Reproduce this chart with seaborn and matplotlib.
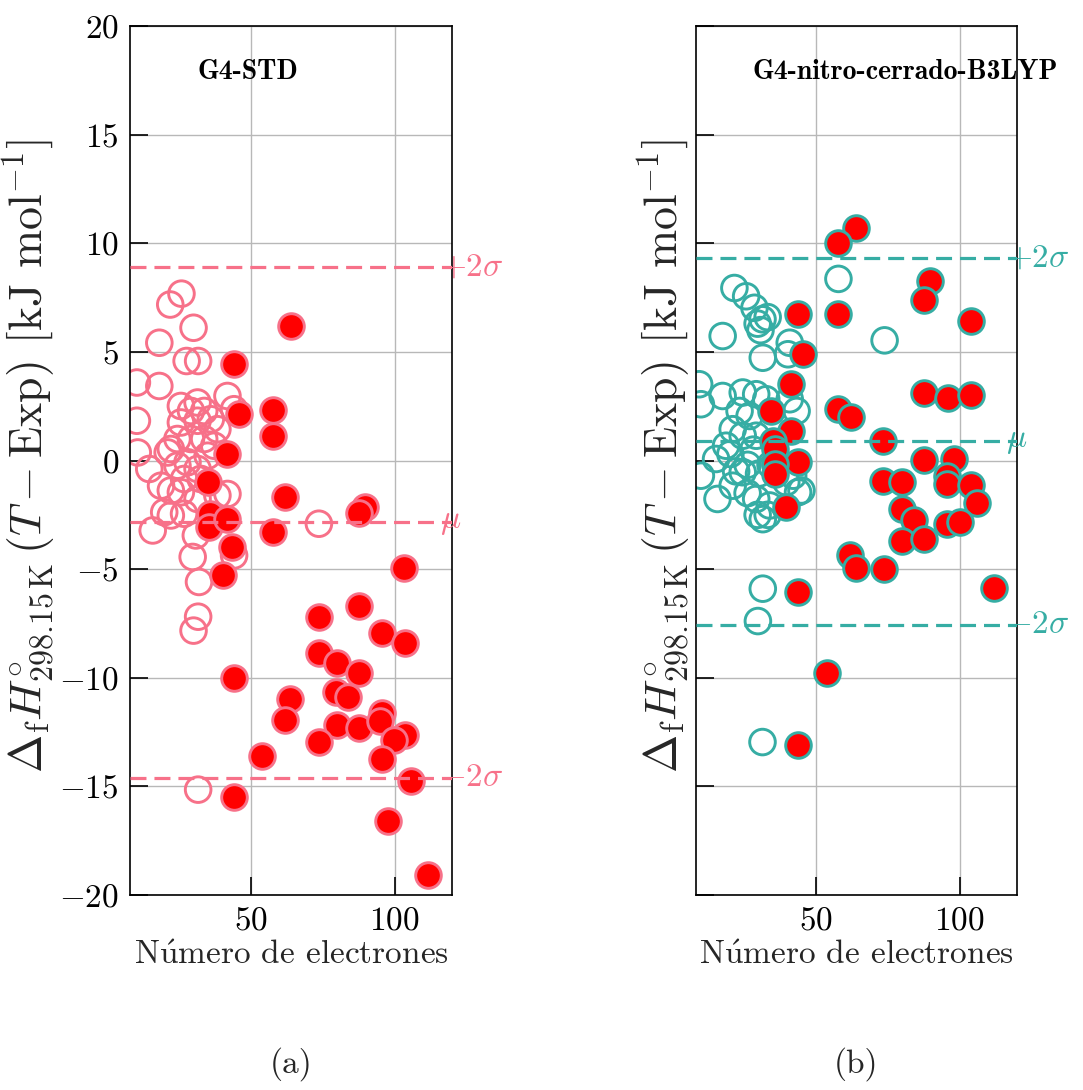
import matplotlib
matplotlib.use('Agg')
import matplotlib.pyplot as plt
import seaborn as sns
from matplotlib.ticker import FuncFormatter, MultipleLocator

# -----------------------------
# Data
# -----------------------------
# (a) G4-STD
std_open_x = [25.9, 22.0, 30.1, 18.2, 27.7, 31.7, 10.4, 18.2, 25.7, 31.5, 41.9, 10.4,
              10.7, 29.2, 33.8, 44.2, 25.7, 31.5, 36.1, 24.5, 29.2, 33.8, 37.3, 28.0,
              31.5, 24.5, 35.0, 32.6, 26.8, 21.1, 22.2, 14.7, 22.2, 25.7, 31.5, 38.4,
              41.9, 22.2, 26.8, 15.9, 30.9, 29.8, 32.0, 44.2, 38.4, 19.9, 18.8, 31.7,
              30.1, 31.7, 73.7]
std_open_y = [7.68, 7.18, 6.11, 5.42, 4.58, 4.58, 3.59, 3.43, 2.51, 2.67, 2.97, 1.83,
              0.37, 2.28, 2.28, 2.36, 1.75, 1.83, 1.90, 0.99, 0.99, 0.99, 0.68, -0.08,
              -0.39, -0.24, 0.22, -0.85, -0.85, 0.37, 0.53, -0.39, -1.38, -1.46, -1.77, -1.61,
              -1.54, -2.53, -2.45, -3.22, -3.45, -4.44, -5.59, -4.37, 1.44, -2.38, -1.16, -7.19,
              -7.83, -15.15, -2.91]
std_fill_x = [44.1, 45.9, 41.9, 35.2, 35.9, 35.5, 41.9, 43.6, 40.2, 44.0, 44.0, 53.8,
              63.7, 61.8, 73.7, 73.7, 79.9, 87.6, 79.5, 83.8, 79.9, 87.6, 73.7, 87.6,
              95.7, 103.5, 95.7, 95.0, 103.5, 99.8, 95.7, 105.6, 97.8, 111.6, 63.9, 57.8,
              57.8, 61.8, 57.8, 89.6, 87.6, 103.2]
std_fill_y = [4.46, 2.13, 0.30, -1.0, -2.45, -3.06, -2.68, -3.98, -5.28, -10.02, -15.5, -13.6,
              -11.0, -11.94, -7.19, -8.88, -9.33, -9.79, -10.67, -10.9, -12.17, -12.29, -12.96, -6.69,
              -7.93, -8.42, -11.6, -12.0, -12.62, -12.85, -13.72, -14.76, -16.6, -19.07, 6.18, 2.32,
              1.14, -1.69, -3.29, -2.12, -2.42, -4.95]
std_lines = [8.9, -2.85, -14.6]          # +2sigma, mu, -2sigma

# (b) G4-nitro-cerrado-B3LYP
nit_open_x = [57.7, 73.8, 21.4, 25.5, 28.4, 31.2, 29.5, 33.0, 30.5, 17.3, 31.3, 40.7,
              40.1, 9.1, 9.7, 17.3, 24.3, 29.0, 32.5, 40.7, 26.7, 23.2, 20.8, 24.3,
              29.0, 18.5, 15.0, 31.3, 29.6, 31.3, 29.5, 33.0, 15.5, 9.7, 43.6, 39.5,
              31.2, 20.8, 24.3, 29.0, 33.7, 41.9, 44.8, 22.0, 26.0, 20.0, 28.0, 30.0,
              34.0, 26.0, 43.1]
nit_open_y = [8.36, 5.53, 7.94, 7.56, 7.03, 6.50, 6.30, 6.60, 6.00, 5.73, 4.73, 5.42,
              4.89, 3.51, 2.59, 2.97, 3.13, 3.05, 2.82, 2.82, 2.05, 2.28, 1.44, 1.14,
              1.14, 0.68, 0.07, -5.90, -7.39, -2.70, -2.50, -2.50, -1.77, -0.70, -1.46, -1.00,
              -12.96, -1.16, -0.54, -1.77, -2.07, -0.70, -1.38, -0.50, -0.20, 0.30, 0.50, -0.60,
              -0.20, -1.50, 2.28]
nit_fill_x = [63.9, 57.7, 57.7, 89.8, 87.7, 103.9, 43.6, 45.4, 41.3, 57.7, 62.0, 87.7,
              95.9, 103.9, 41.3, 73.4, 43.6, 87.7, 98.0, 73.4, 79.9, 95.7, 95.7, 103.9,
              106.2, 79.9, 84.0, 95.7, 100.1, 79.9, 87.7, 61.8, 63.9, 73.7, 43.6, 112.0,
              53.6, 43.6, 39.5, 34.3, 34.8, 35.4, 35.4, 35.4]
nit_fill_y = [10.7, 10.0, 6.75, 8.28, 7.41, 6.44, 6.75, 4.89, 3.54, 2.36, 1.98, 3.13,
              2.87, 3.0, 1.37, 0.88, -0.08, 0.04, 0.07, -0.93, -0.97, -0.73, -1.08, -1.15,
              -1.97, -2.22, -2.76, -2.91, -2.84, -3.72, -3.6, -4.37, -4.95, -4.98, -6.05, -5.86,
              -9.76, -13.08, -2.15, 2.29, 0.91, 0.53, -0.16, -0.62]
nit_lines = [9.3, 0.88, -7.55]

line_labels = [r'$+2\sigma$', r'$\mu$', r'$-2\sigma$']

# -----------------------------
# Style
# -----------------------------
sns.set_theme(style='white')
plt.rcParams['font.family'] = ['cmr10', 'DejaVu Serif']
plt.rcParams['mathtext.fontset'] = 'cm'
plt.rcParams['axes.formatter.use_mathtext'] = True

pink = sns.color_palette('husl', 6)[0]
teal = sns.color_palette('husl', 6)[3]

fig = plt.figure(figsize=(10.83, 10.90), dpi=100)
ax1 = fig.add_axes([130 / 1083, 195 / 1090, 322 / 1083, 869 / 1090])
ax2 = fig.add_axes([696 / 1083, 195 / 1090, 321 / 1083, 869 / 1090])

ylab = r'$\Delta_{\mathrm{f}} H^{\circ}_{298.15\,\mathrm{K}}\,(T - \mathrm{Exp})$ [kJ mol$^{-1}$]'
xlab = r'N$\mathrm{\acute{u}}$mero de electrones'


def panel(ax, ox, oy, fx, fy, lines, color, title, tx, show_ylabels, lab_x):
    sns.scatterplot(x=ox, y=oy, ax=ax, s=340, facecolor='none', edgecolor=color,
                    linewidth=2.1, zorder=2)
    sns.scatterplot(x=fx, y=fy, ax=ax, s=340, color='red', edgecolor=color,
                    linewidth=2.1, zorder=2)
    for val, lab in zip(lines, line_labels):
        ax.axhline(val, color=color, linestyle=(0, (5, 2.5)), linewidth=2.3, zorder=3)
        ax.text(116.0, val, lab, color=color, fontsize=24, ha='left', va='center',
                clip_on=False, zorder=4)

    ax.set_xlim(8, 120)
    ax.set_ylim(-20, 20)
    ax.xaxis.set_major_locator(MultipleLocator(50))
    ax.yaxis.set_major_locator(MultipleLocator(5))
    ax.yaxis.set_major_formatter(FuncFormatter(lambda v, p: f'${v:.0f}$'))
    ax.xaxis.set_major_formatter(FuncFormatter(lambda v, p: f'${v:.0f}$'))
    ax.grid(True, color='#b8b8b8', linewidth=1.0)
    ax.set_axisbelow(True)
    for sp in ax.spines.values():
        sp.set_color('black')
        sp.set_linewidth(1.2)
    ax.tick_params(direction='in', length=13, width=1.2, labelsize=24, pad=8,
                   left=True, bottom=True, top=False, right=False, colors='black')
    if not show_ylabels:
        ax.tick_params(labelleft=False)

    ax.set_xlabel(xlab, fontsize=24)
    ax.set_ylabel(ylab, fontsize=33)
    ax.yaxis.set_label_coords(lab_x, 0.505)

    ax.text(tx, 0.947, title, transform=ax.transAxes, ha='center', va='center',
            fontsize=20, fontfamily='cmb10', color='black')


panel(ax1, std_open_x, std_open_y, std_fill_x, std_fill_y, std_lines, pink,
      'G4-STD', 0.366, True, -0.228)
panel(ax2, nit_open_x, nit_open_y, nit_fill_x, nit_fill_y, nit_lines, teal,
      'G4-nitro-cerrado-B3LYP', 0.651, False, -0.012)

fig.text(291 / 1083, 0.024, '(a)', ha='center', va='center', fontsize=24)
fig.text(856 / 1083, 0.024, '(b)', ha='center', va='center', fontsize=24)

fig.savefig('out.png', dpi=100)
plt.close()
